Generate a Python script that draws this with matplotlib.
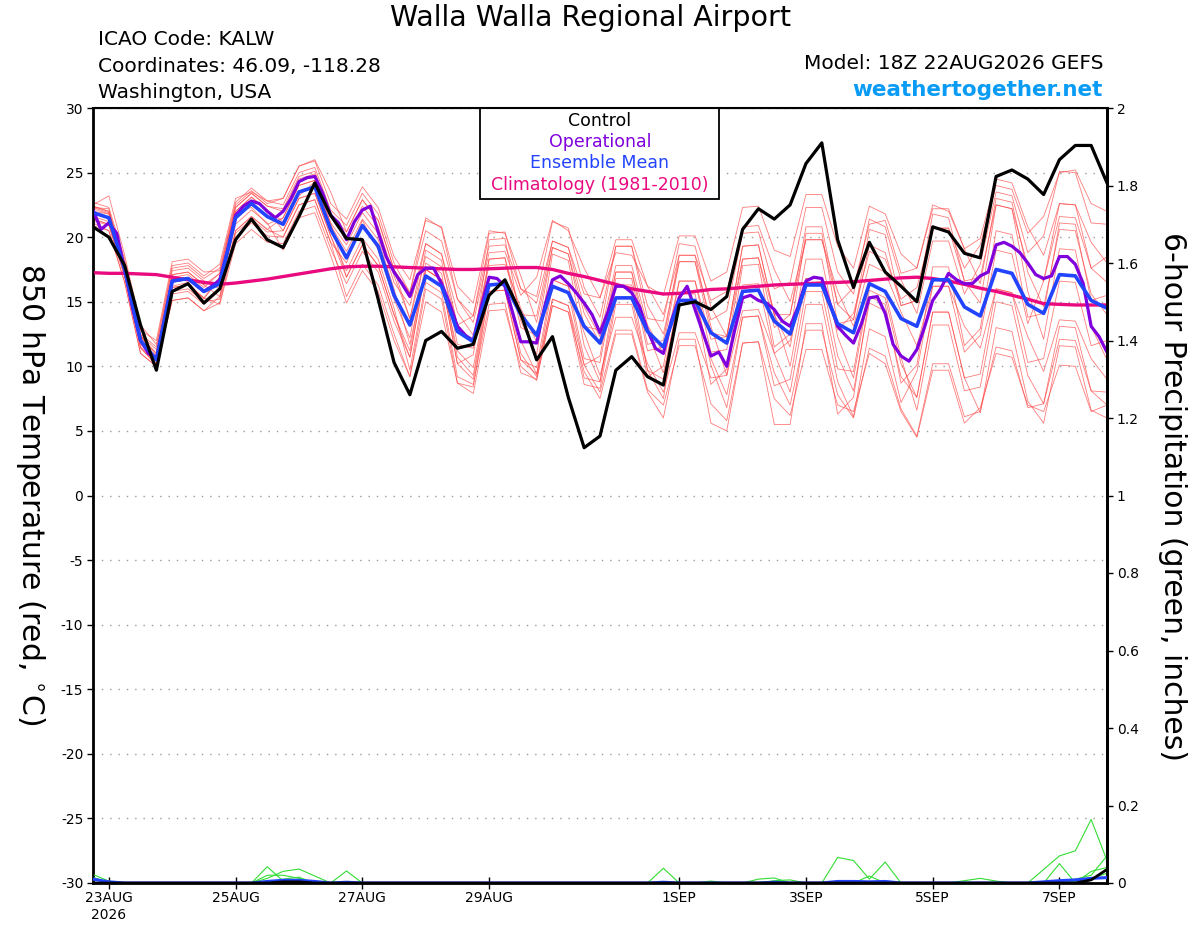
import numpy as np
import matplotlib.pyplot as plt
from matplotlib.patches import Rectangle

plt.rcParams['font.family'] = ['DejaVu Sans']
plt.rcParams['axes.unicode_minus'] = False

# 6-hourly GEFS times, 3-hourly for the operational run
t0 = np.datetime64('2026-08-22T18')
t6 = t0 + np.arange(65) * np.timedelta64(6, 'h')
t3 = t0 + np.arange(129) * np.timedelta64(3, 'h')

tick_days = ['2026-08-23', '2026-08-25', '2026-08-27', '2026-08-29',
             '2026-09-01', '2026-09-03', '2026-09-05', '2026-09-07']
tick_labels = ['23AUG\n2026', '25AUG', '27AUG', '29AUG', '1SEP', '3SEP', '5SEP', '7SEP']

control = [20.8, 20.0, 17.8, 13.2, 9.7, 15.8, 16.4, 14.9, 16.0, 19.8,
           21.4, 19.8, 19.2, 21.6, 24.2, 21.7, 19.9, 19.8, 15.2, 10.3,
           7.8, 12.0, 12.7, 11.4, 11.7, 15.5, 16.7, 14.1, 10.5, 12.3,
           7.6, 3.7, 4.6, 9.7, 10.75, 9.2, 8.55, 14.75, 15.0, 14.4,
           15.4, 20.6, 22.2, 21.4, 22.5, 25.7, 27.3, 19.8, 16.1, 19.6,
           17.3, 16.2, 15.0, 20.8, 20.4, 18.75, 18.4, 24.7, 25.2, 24.5,
           23.3, 26.0, 27.1, 27.1, 24.2]

operational = [22.1, 20.6, 21.1, 20.3, 17.5, 14.5, 12.0, 11.0,
               10.6, 13.5, 16.6, 16.7, 16.8, 16.3, 15.8, 16.2,
               16.7, 19.0, 21.7, 22.4, 22.8, 22.6, 22.0, 21.5,
               22.0, 23.0, 24.3, 24.6, 24.7, 23.4, 21.7, 21.1,
               19.8, 21.2, 22.1, 22.4, 20.4, 18.5, 17.3, 16.4,
               15.4, 17.1, 17.6, 17.6, 16.4, 14.9, 13.1, 12.4,
               12.0, 14.6, 16.9, 16.8, 16.2, 14.1, 11.9, 11.9,
               11.8, 14.6, 16.7, 17.0, 16.4, 15.7, 14.9, 14.0,
               12.6, 14.2, 16.2, 16.2, 15.7, 14.6, 12.8, 11.4,
               11.0, 13.5, 15.3, 16.2, 14.4, 12.6, 10.8, 11.1,
               10.0, 12.8, 15.3, 15.5, 15.1, 14.9, 14.4, 13.5,
               13.1, 14.6, 16.6, 16.9, 16.8, 14.9, 13.1, 12.4,
               11.8, 13.3, 15.3, 15.4, 14.1, 11.7, 10.8, 10.4,
               11.3, 13.1, 15.1, 16.0, 17.2, 16.7, 16.4, 16.4,
               17.0, 17.3, 19.4, 19.6, 19.3, 18.8, 18.0, 17.1,
               16.8, 17.0, 18.5, 18.5, 17.9, 16.4, 13.1, 12.3,
               11.1]

ens_mean = [21.9, 21.5, 17.5, 12.0, 10.5, 16.6, 16.8, 15.8,
            16.4, 21.5, 22.6, 21.6, 21.0, 23.5, 23.9, 20.6,
            18.4, 20.9, 19.3, 15.5, 13.2, 17.0, 16.2, 12.7,
            11.9, 16.3, 16.4, 14.0, 12.4, 16.2, 15.7, 13.1,
            11.8, 15.3, 15.3, 12.7, 11.5, 15.1, 15.1, 12.6,
            11.8, 15.8, 15.9, 13.5, 12.5, 16.3, 16.3, 13.3,
            12.6, 16.4, 15.8, 13.7, 13.1, 16.7, 16.7, 14.6,
            13.9, 17.5, 17.2, 14.8, 14.1, 17.1, 17.0, 15.1,
            14.5]

climo = [17.25, 17.2, 17.2, 17.15, 17.1, 16.9, 16.7, 16.5,
         16.35, 16.45, 16.6, 16.75, 16.95, 17.15, 17.35, 17.55,
         17.7, 17.75, 17.75, 17.7, 17.65, 17.6, 17.55, 17.5,
         17.5, 17.55, 17.6, 17.65, 17.65, 17.5, 17.2, 16.95,
         16.65, 16.35, 16.0, 15.8, 15.6, 15.65, 15.8, 15.95,
         16.0, 16.1, 16.2, 16.3, 16.35, 16.4, 16.45, 16.5,
         16.55, 16.65, 16.75, 16.85, 16.9, 16.8, 16.6, 16.35,
         16.05, 15.8, 15.5, 15.2, 14.85, 14.8, 14.75, 14.75,
         14.75]

# ensemble members, 6-hourly
mem01 = [22.4, 22.0, 18.0, 12.5, 11.5, 17.6, 17.8, 16.8, 17.6, 22.7, 23.8, 22.8,
         22.5, 25.0, 25.4, 22.1, 20.9, 23.4, 21.8, 18.0, 15.7, 21.5, 20.7, 15.2,
         13.9, 20.3, 20.4, 16.0, 15.4, 21.2, 20.7, 16.1, 13.8, 19.3, 19.3, 14.7,
         12.5, 18.1, 18.1, 13.6, 14.3, 20.3, 20.4, 16.0, 16.5, 22.3, 22.3, 17.3,
         15.6, 21.4, 20.8, 16.7, 14.1, 19.7, 19.7, 15.6, 17.9, 23.5, 23.2, 18.8,
         20.1, 25.1, 25.0, 21.1, 21.0]
mem02 = [20.9, 20.5, 16.5, 11.0, 10.0, 15.1, 15.3, 14.3, 14.9, 20.0, 21.1, 20.1,
         20.0, 22.5, 22.9, 19.6, 15.4, 17.9, 16.3, 12.5, 9.2, 16.0, 15.2, 8.7,
         8.4, 15.8, 15.9, 10.5, 9.9, 16.7, 16.2, 10.6, 10.3, 16.8, 16.8, 11.2,
         11.5, 18.1, 18.1, 12.6, 12.3, 19.3, 19.4, 14.0, 11.5, 18.3, 18.3, 12.3,
         9.1, 15.9, 15.3, 10.2, 7.6, 14.2, 14.2, 9.1, 6.4, 13.0, 12.7, 7.3,
         5.6, 11.6, 11.5, 6.6, 6.0]
mem03 = [22.2, 21.8, 17.8, 12.3, 11.0, 17.1, 17.3, 16.3, 17.2, 22.3, 23.4, 22.4,
         22.0, 24.5, 24.9, 21.6, 19.9, 22.4, 20.8, 17.0, 13.7, 18.5, 17.7, 13.2,
         13.9, 19.3, 19.4, 16.0, 14.9, 19.7, 19.2, 15.6, 15.3, 19.8, 19.8, 16.2,
         15.5, 20.1, 20.1, 16.6, 17.3, 22.3, 22.4, 19.0, 18.5, 23.3, 23.3, 19.3,
         17.6, 22.4, 21.8, 18.7, 17.6, 22.2, 22.2, 19.1, 19.9, 24.5, 24.2, 20.8,
         18.6, 22.6, 22.5, 19.6, 18.0]
mem04 = [21.4, 21.0, 17.0, 11.5, 10.0, 15.6, 15.8, 14.8, 15.9, 21.0, 22.1, 21.1,
         19.0, 21.5, 21.9, 18.6, 14.9, 17.4, 15.8, 12.0, 9.2, 15.0, 14.2, 8.7,
         7.9, 14.3, 14.4, 10.0, 8.9, 14.7, 14.2, 9.6, 7.5, 12.5, 12.5, 8.0,
         6.0, 12.1, 12.1, 5.6, 5.0, 11.8, 11.9, 5.5, 5.5, 13.3, 13.3, 6.3,
         7.6, 15.4, 14.8, 8.7, 10.1, 17.7, 17.7, 11.6, 12.9, 20.5, 20.2, 13.8,
         14.1, 21.1, 21.0, 15.1, 15.5]
mem05 = [22.7, 22.3, 18.3, 12.8, 12.0, 18.1, 18.3, 17.3, 17.4, 22.5, 23.6, 22.6,
         23.0, 25.5, 25.9, 22.6, 21.4, 23.9, 22.3, 18.5, 16.7, 21.3, 20.8, 16.2,
         14.9, 20.5, 20.3, 17.0, 13.4, 19.2, 18.7, 14.1, 11.8, 17.3, 17.3, 12.7,
         9.5, 15.1, 15.1, 10.6, 7.8, 13.8, 13.9, 9.5, 7.0, 12.8, 12.8, 7.8,
         6.0, 11.4, 10.8, 6.7, 4.6, 10.2, 10.2, 6.1, 6.5, 11.5, 11.2, 6.8,
         7.1, 12.1, 12.0, 8.1, 8.0]
mem06 = [21.1, 20.5, 16.5, 11.0, 10.0, 16.1, 16.3, 15.3, 16.9, 22.0, 23.1, 22.1,
         20.5, 23.0, 23.4, 20.1, 17.4, 19.9, 18.3, 14.5, 9.7, 16.5, 15.7, 9.2,
         8.6, 14.8, 14.9, 9.5, 9.0, 14.7, 14.2, 8.6, 8.3, 14.8, 14.8, 9.2,
         10.0, 16.6, 16.6, 11.1, 11.3, 18.3, 18.4, 13.0, 14.0, 20.8, 20.8, 14.8,
         16.1, 21.0, 21.3, 17.2, 17.6, 22.5, 22.0, 19.1, 16.4, 23.0, 22.7, 17.3,
         14.6, 20.6, 20.5, 15.6, 14.0]
mem07 = [22.0, 21.8, 17.2, 12.3, 11.0, 17.1, 17.3, 16.3, 15.4, 20.5, 21.6, 20.6,
         21.5, 24.0, 24.4, 21.1, 19.4, 21.9, 20.3, 16.5, 14.7, 19.5, 18.7, 14.2,
         12.4, 17.8, 17.9, 14.5, 11.9, 16.7, 16.2, 12.6, 9.3, 13.8, 13.8, 10.2,
         8.0, 12.6, 12.6, 9.1, 9.3, 14.3, 14.4, 11.0, 12.0, 16.8, 16.8, 12.8,
         14.1, 18.9, 18.3, 15.2, 16.1, 20.7, 20.7, 17.6, 19.4, 24.0, 23.7, 20.3,
         21.6, 25.0, 25.2, 22.6, 22.0]
mem08 = [22.4, 22.0, 18.0, 12.5, 10.0, 16.1, 16.3, 15.3, 14.8, 19.5, 20.6, 19.6,
         19.5, 22.0, 22.4, 19.1, 16.4, 18.9, 17.3, 13.5, 10.7, 17.5, 16.7, 10.2,
         10.9, 18.3, 18.4, 13.0, 12.4, 19.2, 18.7, 13.1, 12.8, 19.3, 19.3, 13.7,
         13.5, 19.5, 19.3, 14.6, 12.3, 19.3, 19.4, 14.0, 10.0, 16.8, 16.8, 10.8,
         8.1, 14.9, 14.3, 9.2, 7.6, 14.2, 14.2, 9.1, 9.4, 16.0, 15.7, 10.3,
         10.6, 16.6, 16.5, 11.6, 12.0]
mem09 = [21.6, 21.2, 17.2, 11.7, 10.8, 16.2, 16.5, 15.2, 16.9, 22.0, 23.1, 22.1,
         21.2, 23.2, 24.3, 20.9, 18.9, 21.4, 19.8, 16.0, 11.7, 17.5, 16.7, 11.2,
         9.9, 16.3, 16.4, 12.0, 9.4, 15.2, 14.7, 10.1, 8.0, 12.8, 12.8, 8.2,
         7.0, 11.6, 11.6, 7.1, 5.8, 11.8, 11.9, 7.5, 6.2, 11.3, 11.3, 7.0,
         6.5, 11.0, 10.2, 6.5, 4.5, 9.7, 9.7, 5.6, 6.8, 11.0, 10.7, 7.0,
         6.5, 10.1, 10.0, 6.5, 7.0]
mem10 = [22.5, 23.2, 18.6, 13.2, 11.7, 17.8, 18.0, 17.0, 17.9, 23.0, 23.5, 22.8,
         23.0, 25.5, 26.0, 23.5, 20.4, 22.9, 21.3, 17.5, 15.7, 20.5, 19.7, 15.2,
         13.4, 18.8, 18.9, 15.5, 16.9, 21.3, 20.5, 17.6, 15.3, 18.8, 18.6, 16.2,
         14.0, 18.6, 18.6, 15.1, 15.8, 20.8, 20.9, 17.5, 15.0, 19.8, 19.8, 15.8,
         13.1, 17.9, 17.3, 14.2, 11.6, 16.2, 16.2, 13.1, 11.4, 16.0, 15.7, 12.3,
         9.6, 13.6, 13.5, 10.6, 9.0]
mem11 = [21.4, 21.0, 17.0, 11.5, 10.2, 15.1, 15.3, 14.3, 15.4, 20.5, 21.6, 20.6,
         20.0, 22.5, 22.9, 19.6, 18.0, 21.3, 19.0, 15.2, 12.2, 19.0, 18.2, 11.7,
         11.4, 19.8, 19.9, 13.5, 10.9, 18.7, 18.2, 11.6, 8.8, 16.3, 16.3, 9.7,
         7.5, 15.1, 15.1, 8.6, 9.8, 17.8, 17.9, 11.5, 12.5, 20.3, 20.3, 13.3,
         13.6, 20.6, 20.2, 14.7, 15.1, 21.8, 21.5, 16.6, 14.9, 22.5, 22.2, 15.8,
         12.1, 19.1, 19.0, 13.1, 10.5]
mem12 = [22.3, 22.2, 17.4, 12.4, 11.3, 17.4, 17.6, 16.6, 16.0, 21.9, 22.3, 21.0,
         21.5, 24.0, 24.4, 21.1, 16.9, 19.4, 17.8, 14.0, 10.7, 17.5, 16.7, 10.2,
         9.0, 15.8, 15.9, 10.5, 9.4, 16.2, 15.7, 10.1, 10.8, 17.3, 17.3, 11.7,
         12.0, 18.6, 18.6, 13.1, 9.3, 16.3, 16.4, 11.0, 8.0, 14.8, 14.8, 8.8,
         6.1, 12.9, 12.3, 7.2, 9.6, 16.2, 16.2, 11.1, 12.4, 19.0, 18.7, 13.3,
         16.6, 22.6, 22.5, 17.6, 18.5]
mem13 = [22.3, 21.9, 17.9, 12.4, 10.8, 16.9, 17.1, 16.1, 17.2, 22.3, 23.4, 22.4,
         22.2, 24.7, 25.1, 21.8, 20.4, 22.9, 21.3, 17.5, 13.7, 19.5, 18.7, 13.2,
         11.9, 18.3, 18.4, 14.0, 13.9, 19.7, 19.2, 14.6, 12.3, 17.8, 17.8, 13.2,
         11.0, 16.6, 16.6, 12.1, 12.3, 18.3, 18.4, 14.0, 14.0, 19.8, 19.8, 14.8,
         13.6, 19.4, 18.8, 14.7, 15.1, 20.7, 20.7, 16.6, 16.9, 22.5, 22.2, 17.8,
         16.6, 21.6, 21.5, 17.6, 16.5]
mem14 = [21.3, 20.9, 16.9, 11.4, 10.2, 15.8, 16.0, 15.0, 15.2, 20.3, 21.4, 20.4,
         20.5, 23.0, 23.4, 20.1, 16.9, 19.4, 17.8, 14.0, 11.2, 18.0, 17.2, 10.7,
         9.3, 16.3, 16.4, 11.0, 9.2, 15.2, 14.7, 9.1, 8.8, 15.3, 15.3, 9.7,
         9.0, 15.6, 15.6, 10.1, 6.8, 13.8, 13.9, 8.5, 9.0, 15.8, 15.8, 9.8,
         9.6, 16.4, 15.8, 10.7, 6.6, 13.2, 13.2, 8.1, 8.4, 15.0, 14.7, 9.3,
         7.1, 13.1, 13.0, 8.1, 7.0]
members = [mem01, mem02, mem03, mem04, mem05, mem06, mem07,
           mem08, mem09, mem10, mem11, mem12, mem13, mem14]

# 6-hour precipitation (inches)
pcp_a = [0.022, 0.005, 0, 0, 0, 0, 0, 0, 0, 0, 0, 0.042, 0.005,
         0, 0, 0, 0, 0, 0, 0, 0, 0, 0, 0, 0, 0,
         0, 0, 0, 0, 0, 0, 0, 0, 0, 0, 0.038, 0, 0,
         0, 0, 0, 0, 0, 0, 0, 0, 0.066, 0.058, 0.01, 0.054, 0,
         0, 0, 0, 0, 0, 0, 0, 0, 0.035, 0.07, 0.083, 0.164, 0.058]
pcp_b = [0.015, 0, 0, 0, 0, 0, 0, 0, 0, 0, 0, 0.012, 0.03,
         0.036, 0.018, 0, 0.031, 0, 0, 0, 0, 0, 0, 0, 0, 0,
         0, 0, 0, 0, 0, 0, 0, 0, 0, 0, 0, 0, 0,
         0, 0, 0, 0.01, 0.013, 0, 0, 0, 0, 0, 0, 0, 0,
         0, 0, 0, 0, 0, 0, 0, 0, 0, 0.05, 0, 0.03, 0.04]
pcp_c = [0, 0, 0, 0, 0, 0, 0, 0, 0, 0, 0, 0.02, 0.02,
         0.012, 0, 0, 0, 0, 0, 0, 0, 0, 0, 0, 0, 0,
         0, 0, 0, 0, 0, 0, 0, 0, 0, 0, 0, 0, 0,
         0.005, 0, 0, 0, 0, 0, 0, 0, 0, 0, 0.018, 0, 0,
         0, 0, 0, 0.006, 0.012, 0.005, 0, 0, 0, 0, 0.01, 0.02, 0.07]
pcp_d = [0, 0, 0, 0, 0, 0, 0, 0, 0, 0, 0, 0, 0.01,
         0.015, 0, 0, 0, 0, 0, 0, 0, 0, 0, 0, 0, 0,
         0, 0, 0, 0, 0, 0, 0, 0, 0, 0, 0, 0, 0,
         0, 0, 0, 0, 0.006, 0.008, 0, 0, 0, 0, 0, 0, 0,
         0, 0, 0, 0, 0, 0, 0, 0, 0, 0, 0.005, 0.012, 0.025]
pcp_members = [pcp_a, pcp_b, pcp_c, pcp_d]
pcp_mean = [0.01, 0.003, 0, 0, 0, 0, 0, 0, 0, 0, 0, 0.004, 0.007,
            0.007, 0.004, 0, 0.002, 0, 0, 0, 0, 0, 0, 0, 0, 0,
            0, 0, 0, 0, 0, 0, 0, 0, 0, 0, 0.002, 0, 0,
            0, 0, 0, 0, 0.002, 0, 0, 0, 0.004, 0.004, 0.003, 0.004, 0,
            0, 0, 0, 0, 0, 0, 0, 0, 0.003, 0.006, 0.008, 0.012, 0.014]
pcp_control = [0, 0, 0, 0, 0, 0, 0, 0, 0, 0, 0, 0, 0.003,
               0.003, 0, 0, 0, 0, 0, 0, 0, 0, 0, 0, 0, 0,
               0, 0, 0, 0, 0, 0, 0, 0, 0, 0, 0, 0, 0,
               0, 0, 0, 0, 0, 0, 0, 0, 0, 0, 0, 0, 0,
               0, 0, 0, 0, 0, 0, 0, 0, 0, 0, 0, 0.008, 0.035]

temp_ticks = list(range(-30, 31, 5))
pcp_ticks = [0, 0.2, 0.4, 0.6, 0.8, 1.0, 1.2, 1.4, 1.6, 1.8, 2.0]
pcp_ticklabels = ['0', '0.2', '0.4', '0.6', '0.8', '1', '1.2', '1.4', '1.6', '1.8', '2']

fig = plt.figure(figsize=(12, 9.27), dpi=100)
ax = fig.add_axes([93/1200, 44/927, 1014/1200, 775/927])

for m in members:
    ax.plot(t6, m, color='#ff4444', lw=0.6, alpha=0.7, zorder=2)
ax.plot(t6, climo, color='#ea0a80', lw=2.4, zorder=3)
ax.plot(t3, operational, color='#8000dd', lw=2.3, zorder=4)
ax.plot(t6, ens_mean, color='#2244ff', lw=2.6, zorder=5)
ax.plot(t6, control, color='black', lw=2.3, zorder=6)

ax.set_ylim(-30, 30)
ax.set_xlim(t6[0], t6[-1])
ax.set_yticks(temp_ticks)
ax.tick_params(axis='y', direction='out', length=4, width=1, labelsize=10, pad=3)
ax.set_xticks([np.datetime64(d + 'T00') for d in tick_days])
ax.set_xticklabels(tick_labels)
ax.tick_params(axis='x', direction='inout', length=8, width=1, labelsize=10, pad=2)
ax.grid(axis='y', linestyle=(0, (1, 5)), color='#9a9a9a', lw=1)
for s in ['left', 'right']:
    ax.spines[s].set_linewidth(2)
ax.spines['top'].set_linewidth(1.5)
ax.spines['bottom'].set_linewidth(2)

ax2 = ax.twinx()
for p in pcp_members:
    ax2.plot(t6, p, color='#33dd33', lw=0.8, zorder=2)
ax2.plot(t6, pcp_mean, color='#2244ff', lw=2.2, zorder=3)
ax2.plot(t6, pcp_control, color='black', lw=2, zorder=4)
ax2.set_ylim(0, 2)
ax2.set_yticks(pcp_ticks)
ax2.set_yticklabels(pcp_ticklabels)
ax2.tick_params(axis='y', direction='out', length=4, width=1, labelsize=10, pad=3)
ax2.spines['right'].set_linewidth(2)

# legend box
ax.add_patch(Rectangle((0.3818, 0.8826), 0.2357, 0.1174, transform=ax.transAxes,
                       facecolor='white', edgecolor='black', lw=1.3, zorder=10))
legend_items = [('Control', 'black', 0.983), ('Operational', '#8000dd', 0.956),
                ('Ensemble Mean', '#2244ff', 0.929), ('Climatology (1981-2010)', '#ea0a80', 0.901)]
for txt, col, yy in legend_items:
    ax.text(0.5, yy, txt, color=col, fontsize=12.5, ha='center', va='center',
            transform=ax.transAxes, zorder=11)

fig.text(0.4917, 0.9806, 'Walla Walla Regional Airport', fontsize=20.5, ha='center', va='center')
fig.text(0.0817, 0.9569, 'ICAO Code: KALW', fontsize=14.5, va='center')
fig.text(0.0817, 0.9288, 'Coordinates: 46.09, -118.28', fontsize=14.5, va='center')
fig.text(0.0817, 0.8997, 'Washington, USA', fontsize=14.5, va='center')
fig.text(0.9192, 0.931, 'Model: 18Z 22AUG2026 GEFS', fontsize=14.5, ha='right', va='center')
fig.text(0.9192, 0.9029, 'weathertogether.net', fontsize=15.5, ha='right', va='center',
         color='#0a9cf5', fontweight='bold')
fig.text(0.025, 0.467, '850 hPa Temperature (red, $^{\\circ}$C)', fontsize=21.5,
         rotation=270, ha='center', va='center')
fig.text(0.9767, 0.4639, '6-hour Precipitation (green, inches)', fontsize=21.5,
         rotation=270, ha='center', va='center')

fig.savefig('out.png', dpi=100)
